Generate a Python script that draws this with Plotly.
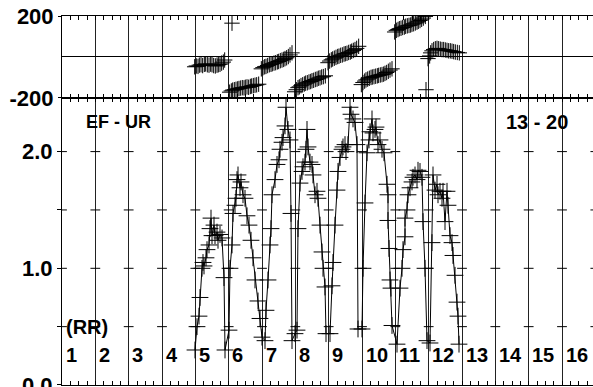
import plotly.graph_objects as go

# amplitude trace (lower panel), x in column units (RR), y amplitude
amp_x = [
    4.99, 5.05, 5.11, 5.14, 5.20, 5.23, 5.26, 5.32, 5.35, 5.41, 5.44, 5.47, 5.50, 5.56, 5.59, 5.65, 5.68, 5.74, 5.80, 5.86, 5.89,
    6.01, 6.04, 6.10, 6.13, 6.19, 6.22, 6.25, 6.28, 6.34, 6.37, 6.43, 6.49, 6.55, 6.61, 6.67, 6.73, 6.79, 6.88, 6.94, 7.00,
    7.09, 7.12, 7.18, 7.24, 7.27, 7.30, 7.39, 7.45, 7.51, 7.54, 7.60, 7.63, 7.69, 7.72, 7.78, 7.84, 7.87, 7.90,
    7.99, 8.05, 8.08, 8.14, 8.20, 8.23, 8.29, 8.32, 8.35, 8.38, 8.44, 8.50, 8.53, 8.59, 8.65, 8.68, 8.74, 8.80, 8.83, 8.89, 8.92,
    9.04, 9.10, 9.13, 9.19, 9.25, 9.28, 9.34, 9.40, 9.43, 9.49, 9.52, 9.58, 9.64, 9.67, 9.73, 9.79, 9.85, 9.88,
    10.00, 10.03, 10.09, 10.15, 10.21, 10.24, 10.30, 10.33, 10.39, 10.42, 10.48, 10.54, 10.60, 10.66, 10.75, 10.78, 10.78, 10.81, 10.84, 10.87, 10.90,
    11.05, 11.14, 11.20, 11.23, 11.29, 11.29, 11.35, 11.38, 11.44, 11.50, 11.53, 11.59, 11.65, 11.68, 11.74, 11.80, 11.83, 11.89, 11.95,
    12.04, 12.10, 12.13, 12.19, 12.25, 12.28, 12.34, 12.40, 12.43, 12.49, 12.55, 12.58, 12.64, 12.70, 12.73, 12.79, 12.85, 12.88, 12.91,
]
amp_y = [
    0.30, 0.50, 0.59, 0.75, 1.00, 1.05, 1.02, 1.09, 1.16, 1.20, 1.34, 1.43, 1.28, 1.37, 1.28, 1.31, 1.24, 1.29, 1.26, 0.92, 0.30,
    0.47, 1.00, 1.20, 1.47, 1.54, 1.60, 1.76, 1.80, 1.69, 1.74, 1.63, 1.60, 1.45, 1.37, 1.24, 1.09, 0.90, 0.72, 0.57, 0.41,
    0.38, 0.64, 0.90, 1.20, 1.34, 1.63, 1.76, 1.89, 1.93, 2.02, 2.08, 2.12, 2.22, 2.38, 2.19, 2.10, 1.47, 0.38,
    0.44, 0.47, 1.34, 1.73, 1.83, 1.87, 1.91, 2.02, 2.19, 2.04, 1.91, 1.89, 1.80, 1.63, 1.66, 1.60, 1.37, 1.14, 1.00, 0.84, 0.44,
    0.44, 0.85, 1.05, 1.37, 1.67, 1.83, 1.95, 2.02, 2.04, 2.06, 2.00, 2.06, 2.38, 2.32, 2.28, 2.25, 2.06, 0.48,
    0.48, 1.00, 1.56, 1.99, 2.10, 2.17, 2.28, 2.16, 2.19, 2.21, 2.06, 2.10, 2.02, 1.99, 1.72, 1.63, 1.41, 1.17, 0.90, 0.83, 0.51,
    0.35, 0.83, 1.00, 1.16, 1.27, 1.43, 1.50, 1.63, 1.69, 1.74, 1.78, 1.80, 1.76, 1.84, 1.83, 1.78, 1.40, 1.00, 0.38,
    0.36, 1.22, 1.80, 1.67, 1.72, 1.63, 1.66, 1.60, 1.66, 1.40, 1.66, 1.54, 1.28, 1.22, 1.11, 0.94, 0.71, 0.59, 0.35,
]

# phase (upper panel), degrees
ph_x = [
    4.98, 5.03, 5.08, 5.12, 5.17, 5.22, 5.27, 5.31, 5.36, 5.41, 5.46, 5.50, 5.55, 5.60, 5.65, 5.69, 5.74, 5.79, 5.84, 5.88, 6.10,
    6.03, 6.08, 6.12, 6.17, 6.22, 6.27, 6.31, 6.36, 6.41, 6.46, 6.50, 6.55, 6.60, 6.65, 6.69, 6.74, 6.79, 6.84, 6.90,
    6.98, 7.03, 7.08, 7.12, 7.17, 7.22, 7.27, 7.31, 7.36, 7.41, 7.46, 7.50, 7.55, 7.60, 7.65, 7.69, 7.74, 7.79, 7.84, 7.90,
    7.98, 8.03, 8.08, 8.12, 8.17, 8.22, 8.27, 8.31, 8.36, 8.41, 8.46, 8.50, 8.55, 8.60, 8.65, 8.69, 8.74, 8.79, 8.84, 8.90,
    8.98, 9.03, 9.08, 9.12, 9.17, 9.22, 9.27, 9.31, 9.36, 9.41, 9.46, 9.50, 9.55, 9.60, 9.65, 9.69, 9.74, 9.79, 9.84, 9.90,
    9.98, 10.03, 10.08, 10.12, 10.17, 10.22, 10.27, 10.31, 10.36, 10.41, 10.46, 10.50, 10.55, 10.60, 10.65, 10.69, 10.74, 10.79, 10.84, 10.90,
    10.98, 11.03, 11.08, 11.12, 11.17, 11.22, 11.27, 11.31, 11.36, 11.41, 11.46, 11.50, 11.55, 11.60, 11.65, 11.69, 11.74, 11.79, 11.84, 11.90, 11.92,
    11.98, 12.03, 12.06, 12.10, 12.15, 12.20, 12.25, 12.30, 12.35, 12.40, 12.45, 12.50, 12.55, 12.60, 12.65, 12.70, 12.75, 12.80, 12.86, 12.92,
]
ph_y = [
    -48, -44, -46, -40, -38, -42, -36, -34, -38, -40, -35, -38, -42, -44, -40, -38, -36, -30, -25, -15, 165,
    -172, -166, -162, -160, -158, -156, -154, -152, -150, -151, -148, -146, -148, -144, -142, -140, -138, -136, -133,
    -58, -52, -48, -46, -42, -38, -36, -33, -30, -28, -24, -22, -18, -15, -12, -8, -4, 2, 10, 20,
    -170, -160, -150, -146, -140, -136, -132, -128, -126, -122, -120, -116, -114, -110, -108, -104, -102, -98, -96, -92,
    -28, -20, -14, -10, -6, -2, 2, 4, 8, 10, 14, 16, 18, 22, 24, 28, 32, 36, 42, 52,
    -135, -125, -118, -112, -108, -104, -100, -98, -96, -94, -92, -90, -88, -86, -84, -80, -76, -70, -64, -58,
    122, 130, 134, 138, 140, 144, 146, 150, 152, 154, 156, 160, 162, 166, 170, 174, 178, 184, 190, 198, -160,
    -8, 5, 20, 30, 36, 40, 42, 40, 38, 36, 36, 34, 32, 30, 30, 28, 26, 24, 22, 20,
]

col_labels = [str(k) for k in range(1, 17)]
amp_ticks = [0.5, 1.0, 1.5, 2.0]

FONT = "Liberation Sans"
bold = dict(family=FONT, size=20, color="black", weight=700)
tickbold = dict(family=FONT, size=22, color="black", weight=700)

fig = go.Figure()

# little dashes where the column lines cross the amplitude levels
gx, gy = [], []
for k in range(1, 18):
    for v in amp_ticks:
        gx.append(k)
        gy.append(v)
fig.add_trace(go.Scatter(
    x=gx, y=gy, mode="markers", xaxis="x", yaxis="y",
    marker=dict(symbol="line-ew", size=7, line=dict(width=1, color="black")),
    hoverinfo="skip", showlegend=False,
))

fig.add_trace(go.Scatter(
    x=amp_x, y=amp_y, mode="lines+markers", xaxis="x", yaxis="y",
    line=dict(color="black", width=1),
    marker=dict(symbol="cross-thin", size=12, line=dict(width=1, color="black")),
    showlegend=False,
))

fig.add_trace(go.Scatter(
    x=ph_x, y=ph_y, mode="markers", xaxis="x2", yaxis="y2",
    marker=dict(symbol="cross-thin", size=11, line=dict(width=1, color="black")),
    showlegend=False,
))

xcommon = dict(
    range=[1, 16.93], tick0=1, dtick=1, showticklabels=False, automargin=False,
    showgrid=True, gridcolor="#222", gridwidth=1, zeroline=False,
    showline=True, linecolor="black", linewidth=1, mirror="allticks",
    ticks="inside", ticklen=4, tickcolor="black",
    minor=dict(tick0=1, dtick=0.25, ticks="inside", ticklen=4, tickcolor="black", showgrid=False),
)

split = 0.778
fig.update_layout(
    width=593, height=387,
    margin=dict(l=62, r=0, t=16, b=2),
    paper_bgcolor="white", plot_bgcolor="white",
    xaxis=dict(anchor="y", **xcommon),
    xaxis2=dict(anchor="y2", matches="x", **xcommon),
    yaxis=dict(
        domain=[0, split], range=[0, 2.46], automargin=False,
        tickvals=[0, 0.5, 1.0, 1.5, 2.0],
        ticktext=["<b>0.0</b>", "", "<b>1.0</b>", "", "<b>2.0</b>"],
        ticks="outside", ticklen=4, tickcolor="black", ticklabeloverflow="allow",
        showgrid=False, zeroline=False, showline=True, linecolor="black",
        tickfont=tickbold,
    ),
    yaxis2=dict(
        domain=[split, 1], range=[-200, 200], automargin=False,
        tickvals=[-200, 200], ticktext=["<b>-200</b>", "<b>200</b>"],
        ticks="outside", ticklen=3, tickcolor="black", ticklabeloverflow="allow",
        showgrid=False, zeroline=True, zerolinecolor="black", zerolinewidth=1,
        showline=True, linecolor="black",
        tickfont=tickbold,
    ),
)

ann = [
    dict(x=2.68, y=2.25, text="<b>EF - UR</b>", xanchor="center", size=18),
    dict(x=15.25, y=2.25, text="<b>13 - 20</b>", xanchor="center", size=20),
    dict(x=1.05, y=0.5, text="<b>(RR)</b>", xanchor="left", size=20),
]
for i, lab in enumerate(col_labels):
    ann.append(dict(x=i + 1.05, y=0.26, text="<b>" + lab + "</b>", xanchor="left", size=20))
for a in ann:
    fsize = a.pop("size")
    fig.add_annotation(xref="x", yref="y", showarrow=False, yanchor="middle",
                       font=dict(bold, size=fsize), **a)

# drop the default body margin so the 593x387 figure fills the window exactly
fig.write_html(
    "out.html",
    config={"displayModeBar": False},
    post_script="document.body.style.margin='0';",
)
